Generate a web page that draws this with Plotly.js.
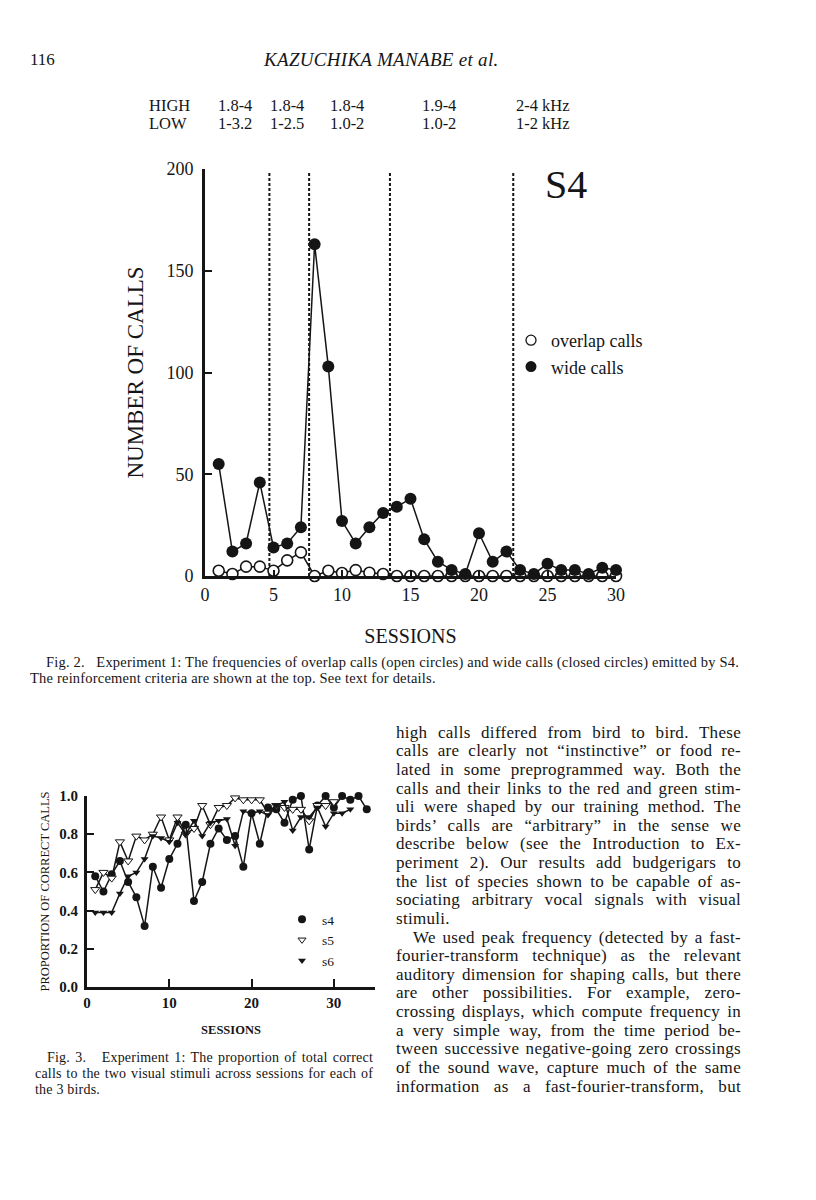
<!DOCTYPE html>
<html>
<head>
<meta charset="utf-8">
<script src="https://cdn.plot.ly/plotly-3.0.1.min.js"></script>
<style>
  body { margin: 0; background: #fff; }
  #page { position: relative; width: 816px; height: 1200px; overflow: hidden;
          font-family: "Liberation Serif", "Times New Roman", serif; color: #151515; }
  #chart { position: absolute; left: 0; top: 0; width: 816px; height: 1200px; }
  .txt { position: absolute; white-space: nowrap; }
  .blk { position: absolute; }
  .blk div { text-align: justify; text-align-last: justify; white-space: nowrap; }
  .blk div.end { text-align-last: left; }
</style>
</head>
<body>
<div id="page">
  <div id="chart"></div>

  <div class="txt" style="left:30px; top:50px; font-size:17px;">116</div>
  <div class="txt" style="left:264px; top:49px; font-size:19px; font-style:italic; letter-spacing:0.3px;">KAZUCHIKA MANABE et al.</div>

  <div class="blk" style="left:30px; top:655px; width:709px; font-size:14.5px; line-height:15.5px; letter-spacing:0.2px;">
    <div style="padding-left:16px;">Fig. 2.&nbsp;&nbsp; Experiment 1: The frequencies of overlap calls (open circles) and wide calls (closed circles) emitted by S4.</div>
    <div class="end">The reinforcement criteria are shown at the top. See text for details.</div>
  </div>

  <div class="blk" style="left:35px; top:1050px; width:338px; font-size:14px; line-height:16px; letter-spacing:0.2px;">
    <div style="padding-left:12px;">Fig. 3.&nbsp;&nbsp; Experiment 1: The proportion of total correct</div>
    <div>calls to the two visual stimuli across sessions for each of</div>
    <div class="end">the 3 birds.</div>
  </div>

  <div class="blk" style="left:396px; top:723.7px; width:345px; font-size:17px; line-height:18.63px; word-spacing:-1.5px; letter-spacing:0.3px;">
    <div>high calls differed from bird to bird. These</div>
    <div>calls are clearly not “instinctive” or food re-</div>
    <div>lated in some preprogrammed way. Both the</div>
    <div>calls and their links to the red and green stim-</div>
    <div>uli were shaped by our training method. The</div>
    <div>birds’ calls are “arbitrary” in the sense we</div>
    <div>describe below (see the Introduction to Ex-</div>
    <div>periment 2). Our results add budgerigars to</div>
    <div>the list of species shown to be capable of as-</div>
    <div>sociating arbitrary vocal signals with visual</div>
    <div class="end">stimuli.</div>
    <div style="padding-left:17px;">We used peak frequency (detected by a fast-</div>
    <div>fourier-transform technique) as the relevant</div>
    <div>auditory dimension for shaping calls, but there</div>
    <div>are other possibilities. For example, zero-</div>
    <div>crossing displays, which compute frequency in</div>
    <div>a very simple way, from the time period be-</div>
    <div>tween successive negative-going zero crossings</div>
    <div>of the sound wave, capture much of the same</div>
    <div>information as a fast-fourier-transform, but</div>
  </div>
</div>

<script>
// ---- Fig. 2 data (S4) ----
var sessionsS4 = [1, 2, 3, 4, 5, 6, 7, 8, 9, 10, 11, 12, 13, 14, 15,
  16, 17, 18, 19, 20, 21, 22, 23, 24, 25, 26, 27, 28, 29, 30];
var overlapCalls = [2.6, 1, 4.6, 4.6, 2.6, 7.7, 11.6, 0, 2.6, 1.5, 2.9, 1.6, 1, 0, 0,
  0, 0, 0, 0, 0, 0, 0, 0, 0, 0, 0, 0, 0, 0, 0];
var wideCalls = [55, 12, 16, 46, 14, 16, 24, 163, 103, 27, 16, 24, 31, 34, 38,
  18, 7, 3, 1, 21, 7, 12, 3, 1, 6, 3, 3, 1, 4, 3];
// sessions where the reinforcement criterion changed
var criterionChanges = [4.7, 7.6, 13.5, 22.5];
var highLabels = ['HIGH', '1.8-4', '1.8-4', '1.8-4', '1.9-4', '2-4 kHz'];
var lowLabels = ['LOW', '1-3.2', '1-2.5', '1.0-2', '1.0-2', '1-2 kHz'];

// ---- Fig. 3 data (proportion correct) ----
var propS4 = [0.58, 0.50, 0.59, 0.66, 0.55, 0.47, 0.32, 0.63, 0.52, 0.67, 0.75, 0.85,
  0.45, 0.55, 0.75, 0.83, 0.77, 0.79, 0.63, 0.91, 0.75, 0.94, 0.93, 0.86, 0.98,
  1.00, 0.72, 0.95, 1.00, 0.94, 1.00, 0.98, 1.00, 0.93];
var propS5 = [0.51, 0.60, 0.57, 0.76, 0.66, 0.79, 0.77, 0.80, 0.89, 0.77, 0.89, 0.80,
  0.83, 0.95, 0.85, 0.94, 0.95, 0.99, 0.98, 0.98, 0.98, 0.91, 0.95, 0.94, 0.93,
  0.93, 0.87, 0.95, 0.95, 0.97];
var propS6 = [0.39, 0.39, 0.39, 0.49, 0.58, 0.60, 0.67, 0.79, 0.78, 0.76, 0.86, 0.80,
  0.87, 0.79, 0.86, 0.87, 0.88, 0.74, 0.92, 0.91, 0.92, 0.90, 0.95, 0.97, 0.82,
  0.89, 0.89, 0.94, 0.84, 0.91, 0.91, 0.93];

function seq(n) {
  var a = [];
  for (var i = 1; i <= n; i++) a.push(i);
  return a;
}

var INK = '#151515';
var SERIF = '"Liberation Serif", "Times New Roman", serif';
var W = 816, H = 1200;
function px(x) { return x / W; }      // page pixel -> paper x
function py(y) { return 1 - y / H; }  // page pixel -> paper y

var traces = [
  { // overlap calls
    x: sessionsS4, y: overlapCalls, xaxis: 'x', yaxis: 'y',
    type: 'scatter', mode: 'lines+markers', showlegend: false, cliponaxis: false,
    line: { color: INK, width: 1.5 },
    marker: { symbol: 'circle', size: 11, color: '#fff', line: { color: INK, width: 1.6 } }
  },
  { // wide calls
    x: sessionsS4, y: wideCalls, xaxis: 'x', yaxis: 'y',
    type: 'scatter', mode: 'lines+markers', showlegend: false, cliponaxis: false,
    line: { color: INK, width: 1.5 },
    marker: { symbol: 'circle', size: 12, color: INK }
  },
  // legend-only entries (symbols without lines, as in the figure)
  { x: [null], y: [null], xaxis: 'x', yaxis: 'y', type: 'scatter', mode: 'markers',
    name: 'overlap calls', legend: 'legend',
    marker: { symbol: 'circle', size: 10, color: '#fff', line: { color: INK, width: 1.3 } } },
  { x: [null], y: [null], xaxis: 'x', yaxis: 'y', type: 'scatter', mode: 'markers',
    name: 'wide calls', legend: 'legend',
    marker: { symbol: 'circle', size: 11, color: INK } },

  // Fig. 3
  { x: seq(propS4.length), y: propS4, xaxis: 'x2', yaxis: 'y2',
    type: 'scatter', mode: 'lines+markers', showlegend: false, cliponaxis: false,
    line: { color: INK, width: 1.5 }, marker: { symbol: 'circle', size: 8, color: INK } },
  { x: seq(propS5.length), y: propS5, xaxis: 'x2', yaxis: 'y2',
    type: 'scatter', mode: 'lines+markers', showlegend: false, cliponaxis: false,
    line: { color: INK, width: 1.5 },
    marker: { symbol: 'triangle-down', size: 8, color: '#fff', line: { color: INK, width: 1 } } },
  { x: seq(propS6.length), y: propS6, xaxis: 'x2', yaxis: 'y2',
    type: 'scatter', mode: 'lines+markers', showlegend: false, cliponaxis: false,
    line: { color: INK, width: 1.5 }, marker: { symbol: 'triangle-down', size: 7, color: INK } },
  { x: [null], y: [null], xaxis: 'x2', yaxis: 'y2', type: 'scatter', mode: 'markers',
    name: 's4', legend: 'legend2', marker: { symbol: 'circle', size: 8, color: INK } },
  { x: [null], y: [null], xaxis: 'x2', yaxis: 'y2', type: 'scatter', mode: 'markers',
    name: 's5', legend: 'legend2',
    marker: { symbol: 'triangle-down', size: 7, color: '#fff', line: { color: INK, width: 1 } } },
  { x: [null], y: [null], xaxis: 'x2', yaxis: 'y2', type: 'scatter', mode: 'markers',
    name: 's6', legend: 'legend2', marker: { symbol: 'triangle-down', size: 7, color: INK } }
];

var shapes = criterionChanges.map(function (c) {
  return {
    type: 'line', xref: 'x', yref: 'y domain', x0: c, x1: c, y0: 0, y1: 0.99,
    line: { color: INK, width: 2, dash: '3px,2px' }, layer: 'below'
  };
});

// criteria table above Fig. 2
var colPx = [147, 216, 268, 328, 420, 514];
var annotations = [];
for (var i = 0; i < colPx.length; i++) {
  annotations.push({ text: highLabels[i], xref: 'paper', yref: 'paper', x: px(colPx[i]), y: py(105),
    xanchor: 'left', yanchor: 'middle', showarrow: false, font: { family: SERIF, size: 16.5, color: INK } });
  annotations.push({ text: lowLabels[i], xref: 'paper', yref: 'paper', x: px(colPx[i]), y: py(124),
    xanchor: 'left', yanchor: 'middle', showarrow: false, font: { family: SERIF, size: 16.5, color: INK } });
}
annotations.push({ text: 'S4', xref: 'paper', yref: 'paper', x: px(566), y: py(184),
  xanchor: 'center', yanchor: 'middle', showarrow: false, font: { family: SERIF, size: 40, color: INK } });

var layout = {
  width: W, height: H,
  margin: { l: 0, r: 0, t: 0, b: 0 },
  paper_bgcolor: 'rgba(0,0,0,0)', plot_bgcolor: 'rgba(0,0,0,0)',
  font: { family: SERIF, color: INK },
  showlegend: true,
  xaxis: {
    domain: [px(205), px(616)], range: [0, 30], anchor: 'y',
    tick0: 0, dtick: 5, ticks: 'inside', ticklen: 6, tickwidth: 2, tickcolor: INK,
    showline: true, linewidth: 3, linecolor: INK, showgrid: false, zeroline: false,
    tickfont: { size: 18 }, ticklabelstandoff: 0,
    title: { text: 'SESSIONS', font: { size: 20 }, standoff: 26 }
  },
  yaxis: {
    domain: [py(576), py(169)], range: [0, 200], anchor: 'x',
    tick0: 0, dtick: 50, ticks: 'inside', ticklen: 7, tickwidth: 2, tickcolor: INK,
    showline: true, linewidth: 3, linecolor: INK, showgrid: false, zeroline: false,
    tickfont: { size: 18 }, ticklabelstandoff: 5,
    title: { text: 'NUMBER OF CALLS', font: { size: 23 }, standoff: 17 }
  },
  xaxis2: {
    domain: [px(87), px(375)], range: [0, 35], anchor: 'y2',
    tickvals: [0, 10, 20, 30], ticks: 'inside', ticklen: 8, tickwidth: 2, tickcolor: INK,
    showline: true, linewidth: 3, linecolor: INK, showgrid: false, zeroline: false,
    tickfont: { size: 15, weight: 'bold' }, ticklabelstandoff: 0,
    title: { text: 'SESSIONS', font: { size: 12.5, weight: 'bold' }, standoff: 16 }
  },
  yaxis2: {
    domain: [py(987), py(796)], range: [0, 1], anchor: 'x2',
    tickvals: [0, 0.2, 0.4, 0.6, 0.8, 1.0], ticktext: ['0.0', '0.2', '0.4', '0.6', '0.8', '1.0'],
    ticks: 'inside', ticklen: 7, tickwidth: 2, tickcolor: INK,
    showline: true, linewidth: 3, linecolor: INK, showgrid: false, zeroline: false,
    tickfont: { size: 15, weight: 'bold' }, ticklabelstandoff: 3,
    title: { text: 'PROPORTION OF CORRECT CALLS', font: { size: 12.5 }, standoff: 7 }
  },
  legend: {
    x: px(511), y: py(322), xanchor: 'left', yanchor: 'top',
    bgcolor: 'rgba(0,0,0,0)', borderwidth: 0, itemwidth: 30,
    font: { family: SERIF, size: 18, color: INK }, tracegroupgap: 0
  },
  legend2: {
    x: px(282), y: py(904), xanchor: 'left', yanchor: 'top',
    bgcolor: 'rgba(0,0,0,0)', borderwidth: 0, itemwidth: 30,
    font: { family: SERIF, size: 13.5, color: INK }, tracegroupgap: 0
  },
  shapes: shapes,
  annotations: annotations
};

Plotly.newPlot('chart', traces, layout, { staticPlot: true });
</script>
</body>
</html>
